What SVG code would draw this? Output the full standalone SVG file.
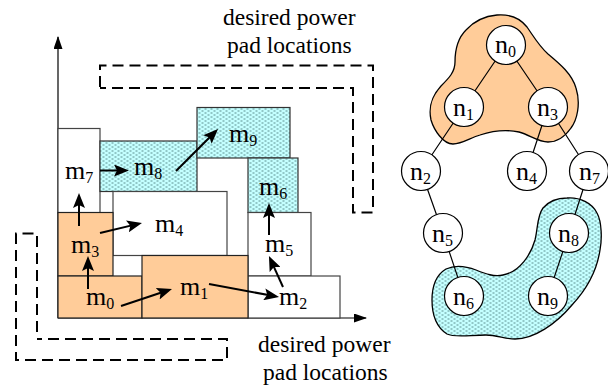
<svg xmlns="http://www.w3.org/2000/svg" width="608" height="385" viewBox="0 0 608 385">
<style>
text{font-family:"Liberation Serif","Times New Roman",serif;fill:#000}
.cap{font-size:23.5px}
.lb{font-size:26px}
.lb tspan{font-size:16px}
.o{fill:#ffcc99;stroke:#222;stroke-width:1.2}
.w{fill:#fff;stroke:#444;stroke-width:1.2}
.c{fill:url(#dots);stroke:#333;stroke-width:1.2}
.ar{fill:none;stroke:#000;stroke-width:2;marker-end:url(#ah)}
.ax{fill:none;stroke:#000;stroke-width:1.2}
.ds{fill:none;stroke:#000;stroke-width:2;stroke-dasharray:11 6}
.ed{fill:none;stroke:#000;stroke-width:1.2}
.nd{fill:#fff;stroke:#000;stroke-width:1.2}
.blob{stroke:#000;stroke-width:1.3}
</style>
<defs>
<pattern id="dots" width="6" height="4" patternUnits="userSpaceOnUse">
<rect width="6" height="4" fill="#c4ffff"/>
<rect x="0.5" y="0.5" width="2" height="1" fill="#5f8f8f"/>
<rect x="3.5" y="2.5" width="2" height="1" fill="#5f8f8f"/>
</pattern>
<marker id="ah" markerUnits="userSpaceOnUse" viewBox="0 0 15 12" markerWidth="15" markerHeight="12" refX="11" refY="6" orient="auto">
<path d="M0 0L15 6L0 12L3 6Z" fill="#000"/>
</marker>
<marker id="axh" markerUnits="userSpaceOnUse" viewBox="0 0 13 9" markerWidth="13" markerHeight="9" refX="12" refY="4.5" orient="auto">
<path d="M0 0L13 4.500L0 9Z" fill="#000"/>
</marker>
</defs>

<g id="layout-frame">
<path class="ax" d="M58 318V37" marker-end="url(#axh)"/>
<path class="ax" d="M58 318H366" marker-end="url(#axh)"/>
<path class="ds" d="M100 87V65.500H373V212.500H353V88H100"/>
<path class="ds" d="M37 332V233.500H16V360H227V339H37"/>
</g>

<g id="m7"><rect class="w" x="58" y="128.500" width="42" height="85"/><text class="lb" x="65" y="179">m<tspan dy="4">7</tspan></text></g>
<g id="m8"><rect class="c" x="100" y="141" width="97" height="50.500"/><text class="lb" x="134" y="175">m<tspan dy="4">8</tspan></text></g>
<g id="m9"><rect class="c" x="197" y="107.500" width="93" height="50.500"/><text class="lb" x="229" y="142">m<tspan dy="4">9</tspan></text></g>
<g id="m6"><rect class="c" x="248" y="158" width="50" height="54.500"/><text class="lb" x="259" y="195">m<tspan dy="4">6</tspan></text></g>
<g id="m4"><rect class="w" x="113" y="191.500" width="114" height="64"/><text class="lb" x="155" y="232">m<tspan dy="4">4</tspan></text></g>
<g id="m5"><rect class="w" x="248" y="212.500" width="63" height="63.500"/><text class="lb" x="265" y="252">m<tspan dy="4">5</tspan></text></g>
<g id="m3"><rect class="o" x="58" y="212.500" width="55" height="63.500"/><text class="lb" x="71" y="253">m<tspan dy="4">3</tspan></text></g>
<g id="m2"><rect class="w" x="248" y="276" width="92" height="42"/><text class="lb" x="279" y="305">m<tspan dy="4">2</tspan></text></g>
<g id="m0"><rect class="o" x="58" y="276" width="84" height="42"/><text class="lb" x="86" y="305">m<tspan dy="4">0</tspan></text></g>
<g id="m1"><rect class="o" x="142" y="255.500" width="106" height="62.500"/><text class="lb" x="180" y="295">m<tspan dy="4">1</tspan></text></g>

<g id="connectors">
<path class="ar" d="M100 170.500H125"/>
<path class="ar" d="M176 171L215.200 131.800"/>
<path class="ar" d="M79 226V197"/>
<path class="ar" d="M88 289V260"/>
<path class="ar" d="M100 233L138.100 223.900"/>
<path class="ar" d="M121 306L168.200 290.300"/>
<path class="ar" d="M209 284L275.100 296.300"/>
<path class="ar" d="M283 287L270.600 259.600"/>
<path class="ar" d="M269 235V207"/>
</g>

<g id="labels">
<text class="cap" x="223" y="25">desired power</text>
<text class="cap" x="227" y="53">pad locations</text>
<text class="cap" x="258" y="352">desired power</text>
<text class="cap" x="263" y="380">pad locations</text>
</g>

<g id="clusters">
<path class="blob" fill="#ffcc99" d="M497 15C510 14 520 18 527 27C534 37 539 46 548 54C560 64 572 74 576 88C581 104 577 120 571 128C564 138 556 142 548 142C538 142 530 135 519 132C505 129 492 131 480 135C470 138 462 144 453 144C443 144 434 130 431 120C428 106 432 96 441 86C449 78 455 72 455 62C455 50 458 38 466 30C475 20 486 16 497 15Z"/>
<path class="blob" fill="url(#dots)" d="M567 198C580 197 592 203 597 213C602 222 602 240 600 250C597 270 586 290 572 305C556 324 534 339 515 339C505 339 497 335 486 335C470 335 455 338 447 334C436 327 432 315 432 300C432 285 436 275 446 269C457 264 468 267 476 270C486 274 494 277 503 275C520 272 531 254 535 240C538 228 537 216 543 208C549 201 558 198 567 198Z"/>
</g>

<g id="tree-edges">
<path class="ed" d="M506 45L464 107M506 45L548 107M464 107L421 171M548 107L527 171M548 107L589 171M421 171L443 233M443 233L464 296M589 171L569 233M569 233L548 296"/>
</g>

<g id="n0"><circle class="nd" cx="506" cy="45" r="19.500"/><text class="lb" x="495" y="53">n<tspan dy="4">0</tspan></text></g>
<g id="n1"><circle class="nd" cx="464" cy="107" r="19.500"/><text class="lb" x="453" y="116">n<tspan dy="4">1</tspan></text></g>
<g id="n3"><circle class="nd" cx="548" cy="107" r="19.500"/><text class="lb" x="537" y="116">n<tspan dy="4">3</tspan></text></g>
<g id="n2"><circle class="nd" cx="421" cy="171" r="19.500"/><text class="lb" x="410" y="180">n<tspan dy="4">2</tspan></text></g>
<g id="n4"><circle class="nd" cx="527" cy="171" r="19.500"/><text class="lb" x="516" y="180">n<tspan dy="4">4</tspan></text></g>
<g id="n7"><circle class="nd" cx="589" cy="171" r="19.500"/><text class="lb" x="579" y="180">n<tspan dy="4">7</tspan></text></g>
<g id="n5"><circle class="nd" cx="443" cy="233" r="19.500"/><text class="lb" x="432" y="242">n<tspan dy="4">5</tspan></text></g>
<g id="n8"><circle class="nd" cx="569" cy="233" r="19.500"/><text class="lb" x="558" y="242">n<tspan dy="4">8</tspan></text></g>
<g id="n6"><circle class="nd" cx="464" cy="296" r="19.500"/><text class="lb" x="453" y="305">n<tspan dy="4">6</tspan></text></g>
<g id="n9"><circle class="nd" cx="548" cy="296" r="19.500"/><text class="lb" x="537" y="305">n<tspan dy="4">9</tspan></text></g>
</svg>
